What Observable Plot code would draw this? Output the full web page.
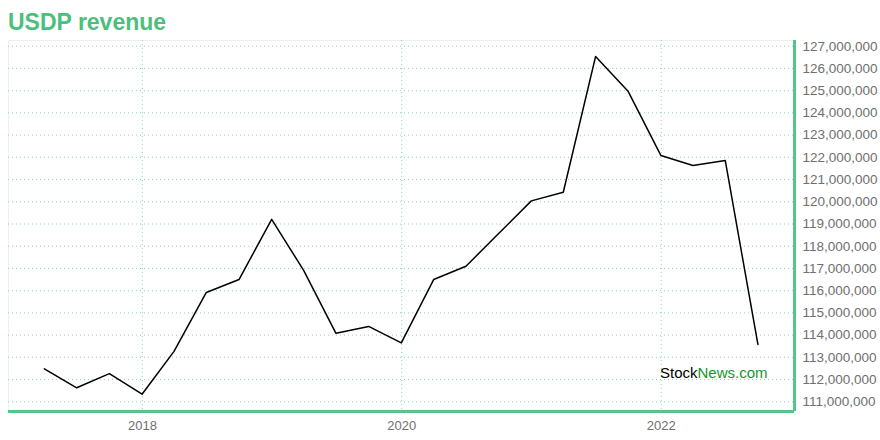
<!DOCTYPE html>
<html>
<head>
<meta charset="utf-8">
<script src="https://cdn.jsdelivr.net/npm/d3@7"></script>
<script src="https://cdn.jsdelivr.net/npm/@observablehq/plot@0.6"></script>
<style>
  html, body { margin: 0; padding: 0; background: #fff; }
  body { width: 880px; height: 440px; position: relative; overflow: hidden; font-family: "Liberation Sans", Arial, Helvetica, sans-serif; }
  #title { height: 40px; box-sizing: border-box; padding: 8px 0 0 8px; font-size: 23px; font-weight: bold; color: #4cbf7c; line-height: 28px; }
  #wm { position: absolute; left: 660px; top: 364px; font-size: 15px; line-height: 18px; color: #000; }
  #wm span { color: #13962f; }
</style>
</head>
<body>
<div id="title">USDP revenue</div>
<div id="chart"></div>
<div id="wm">Stock<span>News.com</span></div>
<script>
const quarterEnds = [
  "2017-03-31","2017-06-30","2017-09-30","2017-12-31",
  "2018-03-31","2018-06-30","2018-09-30","2018-12-31",
  "2019-03-31","2019-06-30","2019-09-30","2019-12-31",
  "2020-03-31","2020-06-30","2020-09-30","2020-12-31",
  "2021-03-31","2021-06-30","2021-09-30","2021-12-31",
  "2022-03-31","2022-06-30","2022-09-30"
];
const revenue = [
  112480000, 111630000, 112270000, 111340000,
  113270000, 115920000, 116500000, 119210000,
  116910000, 114080000, 114390000, 113650000,
  116500000, 117100000, 118570000, 120040000,
  120430000, 126540000, 124960000, 122080000,
  121630000, 121860000, 113580000
];
const xTickYears = [2018, 2020, 2022];
const yTickValues = [111,112,113,114,115,116,117,118,119,120,121,122,123,124,125,126,127].map(v => v * 1e6);
const xDomain = ["2016-12-20", "2023-01-11"];
const yDomain = [110563000, 127257000];

const data = quarterEnds.map((d, i) => ({date: new Date(d), value: revenue[i]}));
const xTicks = xTickYears.map(y => new Date(Date.UTC(y, 0, 1)));
const green = "#55c488";
const gridColor = "#8fd6ae";

const chart = Plot.plot({
  width: 880,
  height: 400,
  marginTop: 0,
  marginLeft: 8,
  marginRight: 86,
  marginBottom: 29,
  style: {fontFamily: "'Liberation Sans', Arial, Helvetica, sans-serif", fontSize: "13px", background: "#fff"},
  x: {type: "utc", domain: xDomain.map(d => new Date(d))},
  y: {domain: yDomain},
  marks: [
    Plot.ruleY([yDomain[1]], {stroke: "#eeeeee", strokeWidth: 1}),
    Plot.ruleX([new Date(xDomain[0])], {stroke: "#eeeeee", strokeWidth: 1}),
    Plot.gridY(yTickValues, {stroke: gridColor, strokeOpacity: 1, strokeDasharray: "1,3"}),
    Plot.gridX(xTicks, {stroke: gridColor, strokeOpacity: 1, strokeDasharray: "1,3"}),
    Plot.axisY(yTickValues, {anchor: "right", tickSize: 0, tickPadding: 8, tickFormat: d3.format(","), fill: "#6f6f6f", fontSize: 13.5, label: null}),
    Plot.axisX(xTicks, {anchor: "bottom", tickSize: 0, tickPadding: 9, tickFormat: d3.utcFormat("%Y"), fill: "#6f6f6f", fontSize: 13, label: null}),
    Plot.line(data, {x: "date", y: "value", stroke: "#000", strokeWidth: 1.5}),
    Plot.ruleY([yDomain[0]], {stroke: green, strokeWidth: 3}),
    Plot.ruleX([new Date(xDomain[1])], {stroke: green, strokeWidth: 3})
  ]
});
document.getElementById("chart").appendChild(chart);
</script>
</body>
</html>
